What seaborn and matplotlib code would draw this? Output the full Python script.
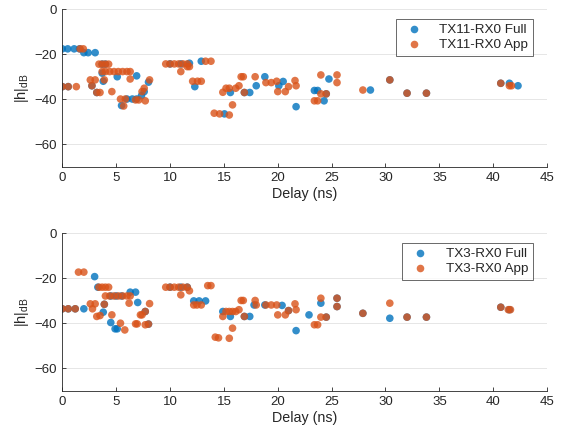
import numpy as np
import pandas as pd
import seaborn as sns
import matplotlib.pyplot as plt

# ---- data (delay in ns, |h| in dB) ----
top_full_delay = [0, 0.5, 1.1, 1.6, 2.0, 2.4, 3.05, 0, 0.55, 2.75, 3.2, 3.7, 3.8, 5.1, 5.5, 6.0,
                  6.5, 6.9, 6.9, 7.35, 7.6, 8.0, 3.7, 4.0, 10.0, 11.0, 11.8, 12.3, 12.9, 15.05,
                  15.6, 16.9, 17.4, 18.0, 18.8, 20.1, 20.5, 21.7, 23.4, 23.7, 24.3, 24.5, 24.75,
                  28.6, 30.4, 32.0, 33.8, 40.7, 41.5, 42.3]
top_full_h = [-17.6, -17.6, -17.6, -17.6, -19.3, -19.3, -19.3, -34.4, -34.4, -34.0, -37.0, -28.4,
              -32.0, -30.0, -42.8, -39.9, -39.9, -39.9, -29.6, -38.4, -36.6, -32.4, -24.4, -24.4,
              -24.3, -24.3, -24.0, -34.4, -23.1, -46.5, -37.0, -37.0, -37.0, -34.0, -30.0, -34.0,
              -32.1, -43.3, -36.1, -36.1, -40.7, -37.6, -31.0, -35.9, -31.4, -37.3, -37.3, -32.9,
              -32.9, -34.0]

top_app_delay = [0, 0.55, 1.3, 1.65, 1.95, 2.6, 3.05, 2.75, 3.2, 3.5, 3.4, 3.7, 4.0, 4.3, 3.7, 4.0,
                 4.4, 4.8, 5.2, 5.6, 6.0, 6.3, 3.9, 4.6, 5.4, 5.85, 5.7, 6.3, 6.8, 7.1, 7.4, 7.6,
                 7.7, 8.1, 9.6, 10.0, 10.4, 10.8, 11.2, 11.6, 11.0, 11.6, 11.8, 12.1, 12.55, 12.9,
                 13.3, 13.8, 14.1, 14.6, 15.5, 14.9, 15.2, 15.5, 16.1, 15.8, 16.4, 16.6, 16.8,
                 16.9, 17.9, 18.9, 19.4, 19.9, 20.0, 20.7, 21.0, 21.6, 21.7, 23.4, 23.7, 24.0,
                 24.5, 24.0, 25.5, 25.5, 27.9, 30.4, 32.0, 33.8, 40.7, 41.5, 41.7]
top_app_h = [-34.4, -34.4, -34.4, -17.6, -17.6, -31.4, -31.4, -34.0, -37.0, -37.0, -24.4, -24.4,
             -24.4, -24.4, -27.7, -27.7, -27.7, -27.7, -27.7, -27.7, -27.7, -27.7, -31.4, -36.6,
             -39.9, -39.9, -43.0, -31.0, -40.3, -40.3, -36.6, -35.1, -40.7, -31.4, -24.3, -24.3,
             -24.3, -24.3, -24.3, -24.3, -27.7, -25.5, -25.5, -32.0, -32.0, -32.0, -23.1, -23.1,
             -46.2, -46.5, -47.0, -36.9, -35.1, -35.1, -35.1, -42.5, -34.0, -30.0, -30.0, -37.0,
             -30.0, -32.6, -32.6, -32.0, -36.6, -36.6, -34.4, -31.7, -34.0, -40.7, -40.7, -37.6,
             -37.6, -29.2, -29.2, -32.6, -35.9, -31.4, -37.3, -37.3, -32.9, -34.0, -34.0]

bot_full_delay = [0, 0.55, 1.2, 2.0, 3.0, 3.3, 3.8, 3.9, 4.5, 4.9, 5.1, 4.5, 5.0, 5.5, 6.3, 6.8,
                  7.0, 7.7, 8.0, 10.0, 11.0, 11.6, 12.2, 12.7, 13.3, 14.9, 15.6, 16.9, 17.4, 17.8,
                  18.8, 20.4, 21.0, 21.7, 22.9, 24.0, 24.5, 25.5, 25.5, 27.9, 30.4, 32.0, 33.8,
                  40.7, 41.5]
bot_full_h = [-33.6, -33.6, -33.6, -33.6, -19.3, -24.0, -35.1, -31.6, -39.7, -42.5, -42.5, -27.9,
              -27.9, -27.9, -26.2, -26.2, -30.8, -34.8, -40.4, -24.0, -24.0, -24.0, -30.1, -30.1,
              -30.1, -34.8, -37.0, -37.0, -37.0, -31.9, -31.9, -32.1, -34.4, -43.3, -36.3, -31.1,
              -37.3, -28.9, -32.6, -35.6, -37.8, -37.3, -37.3, -32.9, -34.0]

bot_app_delay = [0, 0.55, 1.2, 1.5, 2.0, 2.6, 3.05, 2.8, 3.2, 3.5, 3.4, 3.7, 4.0, 4.3, 4.0, 4.4,
                 4.8, 5.2, 5.6, 6.0, 6.3, 3.9, 4.6, 5.4, 5.8, 6.2, 6.8, 6.95, 7.25, 7.4, 7.7, 7.7,
                 8.0, 8.1, 9.6, 10.0, 10.4, 10.8, 11.2, 11.6, 11.0, 11.8, 12.2, 12.5, 12.9, 13.5,
                 13.8, 14.2, 14.5, 15.5, 14.9, 15.2, 15.5, 15.8, 16.1, 15.8, 16.4, 16.6, 16.8,
                 16.9, 17.9, 18.0, 18.9, 19.4, 19.9, 20.0, 20.7, 21.0, 21.6, 21.7, 23.4, 23.7,
                 24.0, 24.5, 24.0, 25.5, 25.5, 27.9, 30.4, 32.0, 33.8, 40.7, 41.4, 41.6]
bot_app_h = [-33.6, -33.6, -33.6, -17.3, -17.3, -31.4, -31.4, -33.6, -37.0, -36.6, -24.0, -24.0,
             -24.0, -24.0, -27.9, -27.9, -27.9, -27.9, -27.9, -27.9, -27.9, -31.6, -36.3, -40.0,
             -43.0, -31.1, -40.3, -40.3, -36.3, -36.3, -34.8, -40.7, -40.4, -31.3, -24.0, -24.0,
             -24.0, -24.0, -24.0, -24.0, -27.4, -25.6, -31.9, -31.9, -31.9, -23.3, -23.3, -46.2,
             -46.5, -46.7, -37.0, -34.8, -34.8, -34.8, -34.8, -42.2, -34.0, -29.9, -29.9, -37.0,
             -29.9, -31.9, -31.9, -31.9, -31.9, -36.3, -36.3, -34.4, -31.4, -34.0, -40.7, -40.7,
             -37.3, -37.3, -28.9, -28.9, -32.6, -35.6, -31.1, -37.3, -37.3, -32.9, -34.0, -34.0]

panels = [
    ("TX11-RX0", top_full_delay, top_full_h, top_app_delay, top_app_h),
    ("TX3-RX0", bot_full_delay, bot_full_h, bot_app_delay, bot_app_h),
]

sns.set_style("white")
plt.rcParams['font.family'] = ['Liberation Sans', 'DejaVu Sans']
plt.rcParams['mathtext.default'] = 'regular'

fig = plt.figure(figsize=(5.69, 4.32), dpi=100)
axes = [fig.add_axes([0.1095, 0.614, 0.852, 0.3646]),
        fig.add_axes([0.1095, 0.0956, 0.852, 0.3646])]

for ax, (name, fd, fh, ad, ah) in zip(axes, panels):
    df = pd.concat([
        pd.DataFrame({'delay': fd, 'h': fh, 'series': f'{name} Full'}),
        pd.DataFrame({'delay': ad, 'h': ah, 'series': f'{name} App'}),
    ], ignore_index=True)
    sns.scatterplot(data=df, x='delay', y='h', hue='series', ax=ax,
                    palette=['#0072BD', '#D95319'], alpha=0.8, s=30, linewidth=0)

    ax.set_xlim(0, 45)
    ax.set_ylim(-70, 0)
    ax.set_xticks(range(0, 46, 5))
    ax.set_yticks([-60, -40, -20, 0])
    ax.yaxis.grid(True, color='#e6e6e6', linewidth=0.7)
    ax.set_axisbelow(True)
    for side in ['top', 'right']:
        ax.spines[side].set_visible(False)
    for side in ['left', 'bottom']:
        ax.spines[side].set_color('#262626')
        ax.spines[side].set_linewidth(0.6)
    ax.tick_params(direction='in', length=3, width=0.6, color='#262626',
                   labelsize=9.5, labelcolor='#262626', bottom=True, left=True, pad=4)
    ax.set_xlabel('Delay (ns)', fontsize=10.3, color='#262626', labelpad=2)
    ax.set_ylabel(r'$|h|_{dB}$', fontsize=10.5, color='#262626', labelpad=2)

    leg = ax.legend(loc='upper right', bbox_to_anchor=(0.985, 0.98), fontsize=9.7,
                    frameon=True, fancybox=False, handletextpad=0.9, borderpad=0.35,
                    labelspacing=0.2, handlelength=2.0, markerscale=1.0)
    leg.get_frame().set_edgecolor('#262626')
    leg.get_frame().set_linewidth(0.6)

fig.savefig('out.png', dpi=100)
